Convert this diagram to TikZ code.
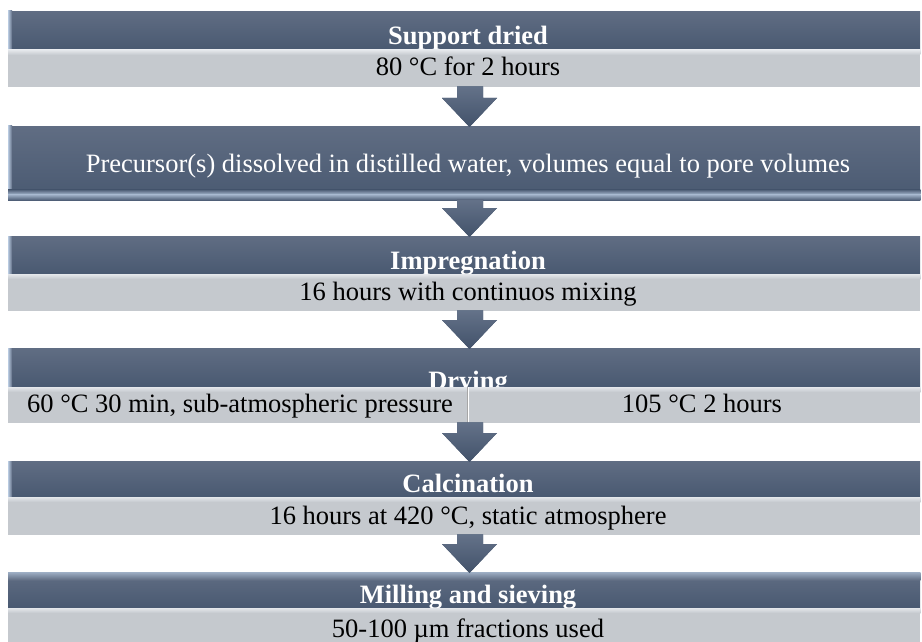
\documentclass[tikz,border=0pt]{standalone}
\usepackage{fontspec}
\setmainfont{Liberation Serif}
\usetikzlibrary{calc}
\definecolor{darkT}{RGB}{96,109,131}
\definecolor{darkB}{RGB}{73,89,113}
\definecolor{lightc}{RGB}{197,201,206}
\definecolor{lighthi}{RGB}{228,231,235}
\definecolor{edgehi}{RGB}{185,203,225}
\definecolor{arrT}{RGB}{100,114,137}
\definecolor{arrB}{RGB}{66,82,106}
\begin{document}
\begin{tikzpicture}[x=1pt,y=-1pt,
  darkbar/.style={draw=none, top color=darkT, bottom color=darkB, anchor=north west, inner sep=0pt, minimum width=912pt},
  lightbar/.style={draw=none, fill=lightc, anchor=north west, inner sep=0pt, minimum width=912pt},
  hdr/.style={anchor=base, text=white, font=\fontsize{26.5}{30}\selectfont\bfseries, inner sep=0pt},
  plain/.style={anchor=base, text=white, font=\fontsize{26.5}{30}\selectfont, inner sep=0pt},
  sub/.style={anchor=base, text=black, font=\fontsize{26.5}{30}\selectfont, inner sep=0pt},
  arrowfill/.style={top color=arrT, bottom color=arrB, draw=none},
  shaftfill/.style={left color=edgehi, right color=arrB, draw=none}
]
\useasboundingbox (0,0) rectangle (922,642);

\newcommand{\lighttop}[1]{%
  \shade[top color=lighthi, bottom color=lightc] (#1.north west) rectangle ([yshift=-5pt]#1.north east);}
\newcommand{\darkedge}[1]{%
  \shade[left color=edgehi, right color=darkT] (#1.north west) rectangle ([xshift=4pt]#1.south west);}
\newcommand{\flowarrow}[2]{%
  \path let \p1=(#1.south), \p2=(#2.north) in
    [shaftfill] (457pt,\y1+1pt) rectangle (470pt,\y2+28pt)
    [fill=arrB] (470pt,\y1+1pt) rectangle (483pt,\y2+28pt)
    [arrowfill] (442pt,\y2+28pt) -- (497pt,\y2+28pt) -- (469.5pt,\y2-1pt) -- cycle;}

% Block 1
\node[darkbar, minimum height=39pt] (h1) at (8,11) {};
\darkedge{h1}
\node[hdr] (t1) at (468,45) {Support dried};
\node[lightbar, minimum height=37pt] (s1) at (8,50) {};
\lighttop{s1}
\node[sub] (u1) at (468,76) {80 °C for 2 hours};

% Block 2
\node[darkbar, minimum height=74pt] (b2) at (8,126) {};
\darkedge{b2}
\shade[top color=darkB, bottom color=edgehi!80!darkB] ([yshift=11pt]b2.south west) rectangle ([yshift=6pt]b2.south east);
\shade[top color=edgehi!80!darkB, bottom color=darkB] ([yshift=6pt]b2.south west) rectangle (b2.south east);
\node[plain] (t2) at (468,172) {Precursor(s) dissolved in distilled water, volumes equal to pore volumes};

% Block 3
\node[darkbar, minimum height=38pt] (h3) at (8,236) {};
\darkedge{h3}
\node[hdr] (t3) at (468,269) {Impregnation};
\node[lightbar, minimum height=37pt] (s3) at (8,274) {};
\lighttop{s3}
\node[sub] (u3) at (468,300) {16 hours with continuos mixing};

% Block 4
\node[darkbar, minimum height=39pt] (h4) at (8,348) {};
\darkedge{h4}
\node[hdr] (t4) at (468,389) {Drying};
\node[lightbar, minimum width=460pt, minimum height=36pt] (s4l) at (8,387) {};
\node[lightbar, minimum width=452pt, minimum height=36pt] (s4r) at (468,387) {};
\lighttop{s4l}
\lighttop{s4r}
\draw[white, line width=1.2pt] (s4r.north west) -- (s4r.south west);
\draw[gray!70, line width=0.6pt] ([xshift=-1pt]s4r.north west) -- ([xshift=-1pt]s4r.south west);
\node[sub] (u4a) at (240,412) {60 °C 30 min, sub-atmospheric pressure};
\node[sub] (u4b) at (702,412) {105 °C 2 hours};

% Block 5
\node[darkbar, minimum height=36pt] (h5) at (8,461) {};
\darkedge{h5}
\node[hdr] (t5) at (468,492) {Calcination};
\node[lightbar, minimum height=38pt] (s5) at (8,497) {};
\lighttop{s5}
\node[sub] (u5) at (468,524) {16 hours at 420 °C, static atmosphere};

% Block 6
\node[darkbar, minimum height=36pt] (h6) at (8,572) {};
\shade[top color=edgehi!70!darkT, bottom color=darkT] (h6.north west) rectangle ([yshift=-8pt]h6.north east);
\node[hdr] (t6) at (468,603) {Milling and sieving};
\node[lightbar, minimum height=34pt] (s6) at (8,608) {};
\lighttop{s6}
\node[sub] (u6) at (468,637) {50-100 µm fractions used};

% Arrows
\flowarrow{s1}{b2}
\flowarrow{b2}{h3}
\flowarrow{s3}{h4}
\flowarrow{s4l}{h5}
\flowarrow{s5}{h6}
\end{tikzpicture}
\end{document}
